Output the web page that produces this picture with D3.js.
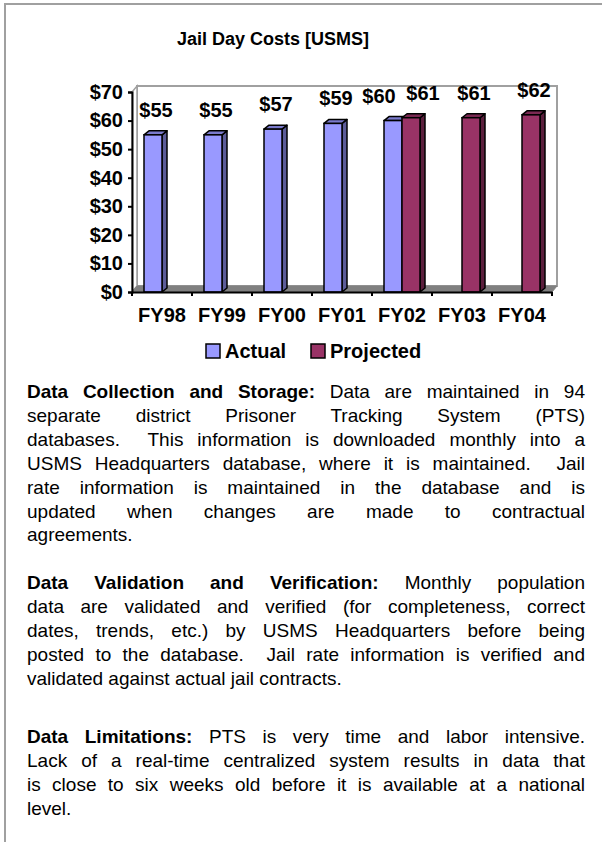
<!DOCTYPE html>
<html>
<head>
<meta charset="utf-8">
<script src="https://cdn.jsdelivr.net/npm/d3@7"></script>
<style>
  body { margin: 0; background: #fff; font-family: "Liberation Sans", Arial, sans-serif; }
  #frame { position: absolute; left: 4px; top: 3px; width: 598px; height: 839px;
           border-left: 2px solid #a0a0a0; border-top: 2px solid #a0a0a0; box-sizing: border-box; }
  #chart { position: absolute; left: 0; top: 0; }
  .para { position: absolute; left: 27px; width: 558px; font-size: 19px; line-height: 23.9px; color: #000; }
  .para div { text-align: justify; text-align-last: justify; white-space: nowrap; }
  .para div.last { text-align-last: left; }
</style>
</head>
<body>
<div id="frame"></div>
<svg id="chart" width="602" height="372"></svg>
<div class="para" style="top:380px">
  <div><b>Data Collection and Storage:</b> Data are maintained in 94</div>
  <div>separate district Prisoner Tracking System (PTS)</div>
  <div>databases.&nbsp; This information is downloaded monthly into a</div>
  <div>USMS Headquarters database, where it is maintained.&nbsp; Jail</div>
  <div>rate information is maintained in the database and is</div>
  <div>updated when changes are made to contractual</div>
  <div class="last">agreements.</div>
</div>
<div class="para" style="top:571px">
  <div><b>Data Validation and Verification:</b> Monthly population</div>
  <div>data are validated and verified (for completeness, correct</div>
  <div>dates, trends, etc.) by USMS Headquarters before being</div>
  <div>posted to the database.&nbsp; Jail rate information is verified and</div>
  <div class="last">validated against actual jail contracts.</div>
</div>
<div class="para" style="top:725px">
  <div><b>Data Limitations:</b> PTS is very time and labor intensive.</div>
  <div>Lack of a real-time centralized system results in data that</div>
  <div>is close to six weeks old before it is available at a national</div>
  <div class="last">level.</div>
</div>
<script>
// chart data
const categories = ['FY98', 'FY99', 'FY00', 'FY01', 'FY02', 'FY03', 'FY04']
const actual = [55, 55, 57, 59, 60, null, null]
const projected = [null, null, null, null, 61, 61, 62]
const seriesNames = ['Actual', 'Projected']
const yTicks = [0, 10, 20, 30, 40, 50, 60, 70]

const colors = {
  Actual: {front: '#9999ff', top: '#7a7acc', side: '#5c5c99'},
  Projected: {front: '#993366', top: '#7a2952', side: '#5c1f3d'}
}

const svg = d3.select('#chart')
const font = '"Liberation Sans", Arial, sans-serif'

const plotLeft = 132, plotRight = 552, plotBottom = 292, plotTop = 92
// 3d offsets
const wall = {dx: 5, dy: -6}
const depth = {dx: 5, dy: -4}

const x = d3.scaleBand().domain(categories).range([plotLeft, plotRight])
const x1 = d3.scaleBand().domain(seriesNames).range([12, 48])
const y = d3.scaleLinear().domain([0, 70]).range([plotBottom, plotTop])

// title
svg.append('text')
  .attr('x', 273).attr('y', 45)
  .attr('text-anchor', 'middle')
  .attr('font-family', font).attr('font-weight', 'bold').attr('font-size', 18)
  .text('Jail Day Costs [USMS]')

// back wall + side wall
svg.append('rect')
  .attr('x', plotLeft + wall.dx).attr('y', plotTop + wall.dy)
  .attr('width', plotRight - plotLeft).attr('height', plotBottom - plotTop)
  .attr('fill', '#fff').attr('stroke', '#a0a0a0').attr('stroke-width', 2)
svg.append('path')
  .attr('d', `M${plotLeft},${plotBottom}L${plotLeft + wall.dx},${plotBottom + wall.dy}L${plotLeft + wall.dx},${plotTop + wall.dy}L${plotLeft},${plotTop}Z`)
  .attr('fill', '#fff').attr('stroke', '#a0a0a0').attr('stroke-width', 1.5)

// floor
svg.append('path')
  .attr('d', `M${plotLeft},${plotBottom}L${plotRight},${plotBottom}L${plotRight + wall.dx},${plotBottom + wall.dy}L${plotLeft + wall.dx},${plotBottom + wall.dy}Z`)
  .attr('fill', '#808080').attr('stroke', '#808080').attr('stroke-width', 1)

// bars
const rows = []
categories.forEach(function(c, i) {
  if (actual[i] != null) rows.push({cat: c, series: 'Actual', value: actual[i], both: projected[i] != null})
  if (projected[i] != null) rows.push({cat: c, series: 'Projected', value: projected[i], both: actual[i] != null})
})

const bw = x1.bandwidth()
const bars = svg.append('g').selectAll('g').data(rows).join('g')
bars.each(function(d) {
  const g = d3.select(this)
  const x0 = x(d.cat) + x1(d.series)
  const yt = y(d.value)
  const c = colors[d.series]
  // side
  g.append('path')
    .attr('d', `M${x0 + bw},${plotBottom}L${x0 + bw + depth.dx},${plotBottom + depth.dy}L${x0 + bw + depth.dx},${yt + depth.dy}L${x0 + bw},${yt}Z`)
    .attr('fill', c.side).attr('stroke', '#000').attr('stroke-width', 1.5).attr('stroke-linejoin', 'round')
  // top
  g.append('path')
    .attr('d', `M${x0},${yt}L${x0 + depth.dx},${yt + depth.dy}L${x0 + bw + depth.dx},${yt + depth.dy}L${x0 + bw},${yt}Z`)
    .attr('fill', c.top).attr('stroke', '#000').attr('stroke-width', 1.5).attr('stroke-linejoin', 'round')
  // front
  g.append('rect')
    .attr('x', x0).attr('y', yt).attr('width', bw).attr('height', plotBottom - yt)
    .attr('fill', c.front).attr('stroke', '#000').attr('stroke-width', 1.5)
})

// value labels
bars.append('text')
  .attr('x', function(d) {
    let shift = 3
    if (d.both) shift += d.series === 'Actual' ? -17 : 9
    return x(d.cat) + x1(d.series) + bw / 2 + shift
  })
  .attr('y', function(d) { return y(d.value) - 18 })
  .attr('text-anchor', 'middle')
  .attr('font-family', font).attr('font-weight', 'bold').attr('font-size', 20)
  .text(function(d) { return '$' + d.value })

// y axis
const yAxis = svg.append('g')
  .attr('transform', `translate(${plotLeft},0)`)
  .call(d3.axisLeft(y).tickValues(yTicks).tickSize(4).tickPadding(5).tickFormat(function(d) { return '$' + d }))
yAxis.select('.domain').attr('stroke', '#000').attr('stroke-width', 2)
yAxis.selectAll('.tick line').attr('stroke', '#000').attr('stroke-width', 2)
yAxis.selectAll('text')
  .attr('font-family', font).attr('font-weight', 'bold').attr('font-size', 20).attr('fill', '#000')

// x axis
const xAxis = svg.append('g')
  .attr('transform', `translate(0,${plotBottom})`)
  .call(d3.axisBottom(x).tickSize(0).tickPadding(16))
xAxis.select('.domain').attr('stroke', '#000').attr('stroke-width', 2)
xAxis.selectAll('text')
  .attr('font-family', font).attr('font-weight', 'bold').attr('font-size', 20).attr('fill', '#000')
xAxis.selectAll('.bound').data(categories.concat(['end'])).join('line')
  .attr('class', 'bound')
  .attr('x1', function(d, i) { return plotLeft + i * x.bandwidth() })
  .attr('x2', function(d, i) { return plotLeft + i * x.bandwidth() })
  .attr('y1', 0).attr('y2', 4)
  .attr('stroke', '#000').attr('stroke-width', 2)

// legend
const legend = svg.append('g').selectAll('g').data(seriesNames).join('g')
  .attr('transform', function(d, i) { return `translate(${[206, 311][i]},344)` })
legend.append('rect')
  .attr('width', 14).attr('height', 14)
  .attr('fill', function(d) { return colors[d].front })
  .attr('stroke', '#000').attr('stroke-width', 1.5)
legend.append('text')
  .attr('x', 19).attr('y', 14)
  .attr('font-family', font).attr('font-weight', 'bold').attr('font-size', 20)
  .text(function(d) { return d })
</script>
</body>
</html>
